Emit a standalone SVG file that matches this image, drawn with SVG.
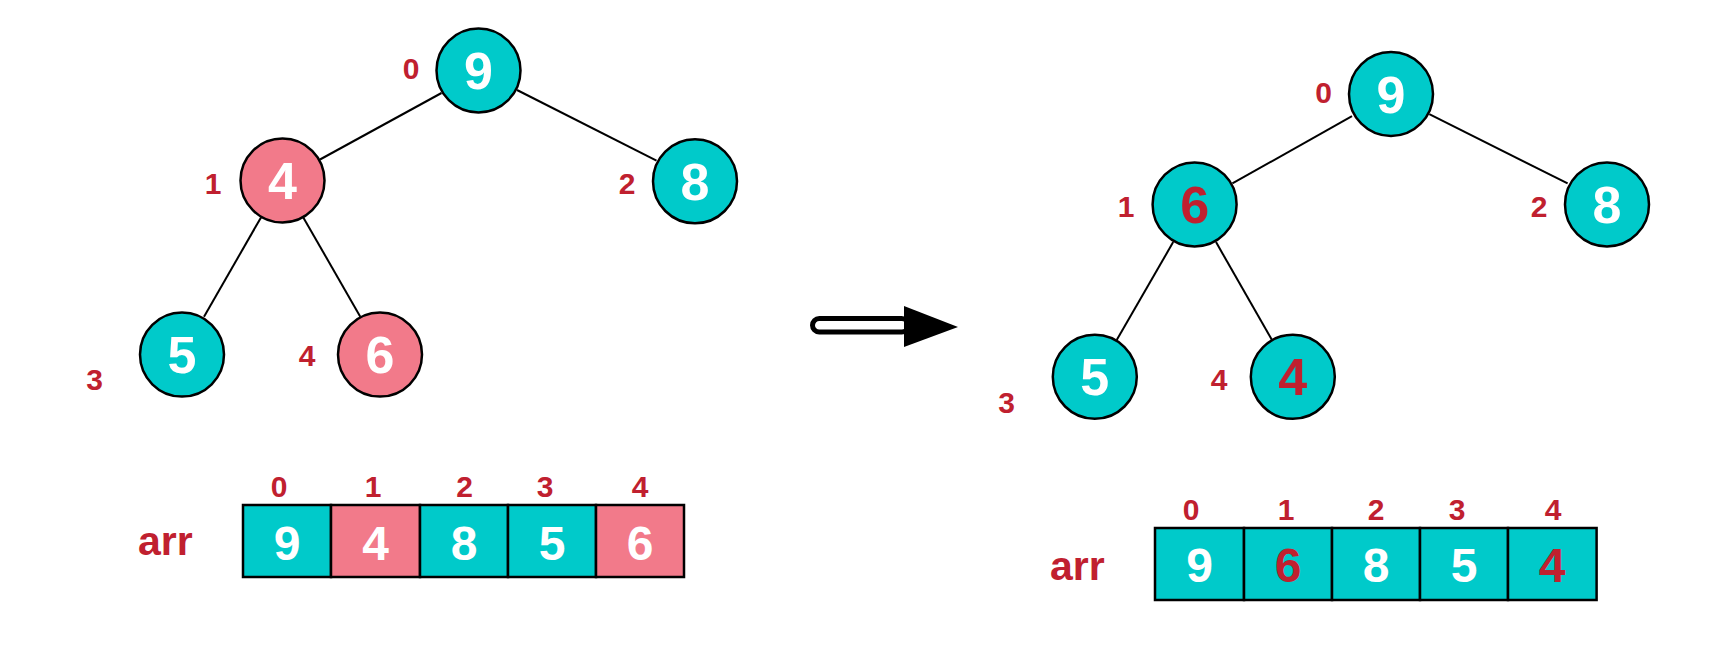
<svg xmlns="http://www.w3.org/2000/svg" width="1720" height="658" viewBox="0 0 1720 658">
<style>
.teal{fill:#00CACA;stroke:#000;stroke-width:2.5}
.pink{fill:#F27A8A;stroke:#000;stroke-width:2.5}
.edge{stroke:#000;stroke-width:2;fill:none}
.v{font-family:"Liberation Sans",Arial,sans-serif;font-weight:bold;font-size:52px;fill:#fff;text-anchor:middle;dominant-baseline:central}
.idx{font-family:"Liberation Sans",Arial,sans-serif;font-weight:bold;font-size:30px;fill:#C0202F;text-anchor:middle;dominant-baseline:central}
.arr{font-family:"Liberation Sans",Arial,sans-serif;font-weight:bold;font-size:41px;fill:#C0202F}
.av{font-family:"Liberation Sans",Arial,sans-serif;font-weight:bold;font-size:48px;fill:#fff;text-anchor:middle;dominant-baseline:central}
.v.vr,.av.vr{fill:#C0202F}
</style>
<rect width="1720" height="658" fill="#fff"/>
<g id="connectors">
<line class="edge" x1="441.5" y1="93" x2="320" y2="159.5"/>
<line class="edge" x1="517" y1="90" x2="656.5" y2="160.7"/>
<line class="edge" x1="261" y1="217.4" x2="204" y2="316.8"/>
<line class="edge" x1="303.3" y1="217.4" x2="360.3" y2="316.8"/>
<line class="edge" x1="1352" y1="116.2" x2="1232.4" y2="183.4"/>
<line class="edge" x1="1429.3" y1="114.1" x2="1567.6" y2="183.4"/>
<line class="edge" x1="1173.2" y1="242.1" x2="1116.7" y2="340"/>
<line class="edge" x1="1216" y1="242.1" x2="1272" y2="340"/>
</g>
<g id="L-n0"><circle class="teal" cx="478.5" cy="70.5" r="42"/><text class="v" x="478.5" y="71">9</text><text class="idx" x="411" y="68">0</text></g>
<g id="L-n1"><circle class="pink" cx="282.5" cy="180.5" r="42"/><text class="v" x="282.5" y="181">4</text><text class="idx" x="213" y="183">1</text></g>
<g id="L-n2"><circle class="teal" cx="695" cy="181.3" r="42"/><text class="v" x="695" y="182">8</text><text class="idx" x="627" y="183">2</text></g>
<g id="L-n3"><circle class="teal" cx="182" cy="354.6" r="42"/><text class="v" x="182" y="355">5</text><text class="idx" x="94.5" y="379">3</text></g>
<g id="L-n4"><circle class="pink" cx="380" cy="354.6" r="42"/><text class="v" x="380" y="355">6</text><text class="idx" x="307" y="355">4</text></g>
<g id="L-array">
<text class="arr" x="138" y="555">arr</text>
<rect class="teal" x="243" y="505" width="88" height="72"/>
<rect class="pink" x="331" y="505" width="89" height="72"/>
<rect class="teal" x="420" y="505" width="88" height="72"/>
<rect class="teal" x="508" y="505" width="88" height="72"/>
<rect class="pink" x="596" y="505" width="88" height="72"/>
<text class="av" x="287" y="543">9</text><text class="av" x="375.5" y="543">4</text><text class="av" x="464" y="543">8</text><text class="av" x="552" y="543">5</text><text class="av" x="640" y="543">6</text>
<text class="idx" x="279" y="486">0</text><text class="idx" x="373" y="486">1</text><text class="idx" x="464.5" y="486">2</text><text class="idx" x="545" y="486">3</text><text class="idx" x="640" y="486">4</text>
</g>
<g id="arrow">
<rect x="812.5" y="318.5" width="96" height="13.5" rx="6.75" fill="#fff" stroke="#000" stroke-width="5"/>
<polygon points="904,306 958,327 904,347" fill="#000"/>
</g>
<g id="R-n0"><circle class="teal" cx="1391" cy="94" r="42"/><text class="v" x="1391" y="94.5">9</text><text class="idx" x="1323.5" y="92">0</text></g>
<g id="R-n1"><circle class="teal" cx="1194.6" cy="204.4" r="42"/><text class="v vr" x="1194.6" y="205">6</text><text class="idx" x="1126" y="206">1</text></g>
<g id="R-n2"><circle class="teal" cx="1607" cy="204.4" r="42"/><text class="v" x="1607" y="205">8</text><text class="idx" x="1539" y="206">2</text></g>
<g id="R-n3"><circle class="teal" cx="1094.8" cy="376.8" r="42"/><text class="v" x="1094.8" y="377">5</text><text class="idx" x="1006.5" y="402">3</text></g>
<g id="R-n4"><circle class="teal" cx="1292.8" cy="376.8" r="42"/><text class="v vr" x="1292.8" y="377">4</text><text class="idx" x="1219" y="379">4</text></g>
<g id="R-array">
<text class="arr" x="1050" y="580">arr</text>
<rect class="teal" x="1155" y="528" width="89" height="72"/>
<rect class="teal" x="1244" y="528" width="88" height="72"/>
<rect class="teal" x="1332" y="528" width="88" height="72"/>
<rect class="teal" x="1420" y="528" width="88" height="72"/>
<rect class="teal" x="1508" y="528" width="88.6" height="72"/>
<text class="av" x="1199.5" y="565">9</text><text class="av vr" x="1288" y="565">6</text><text class="av" x="1376" y="565">8</text><text class="av" x="1464" y="565">5</text><text class="av vr" x="1552" y="565">4</text>
<text class="idx" x="1191" y="509">0</text><text class="idx" x="1286" y="509">1</text><text class="idx" x="1376" y="509">2</text><text class="idx" x="1457" y="509">3</text><text class="idx" x="1553" y="509">4</text>
</g>
</svg>
